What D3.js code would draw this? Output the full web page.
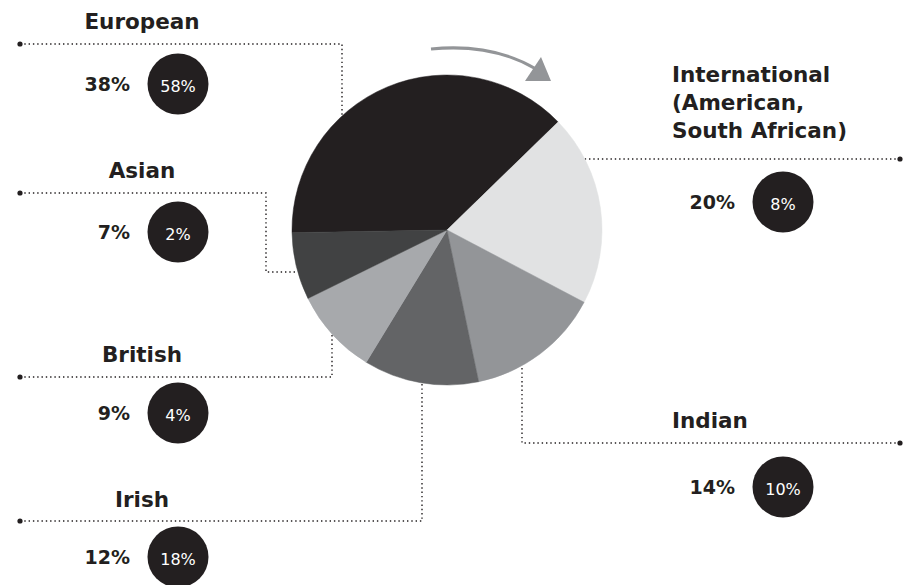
<!DOCTYPE html>
<html>
<head>
<meta charset="utf-8">
<script src="https://cdn.jsdelivr.net/npm/d3@7"></script>
<style>
  body { margin: 0; background: #fff; }
  text { font-family: "DejaVu Sans", sans-serif; fill: #231f20; }
</style>
</head>
<body>
<div id="main"></div>
<script>
// ---- data ----
var categories = ["European", "International", "Indian", "Irish", "British", "Asian"];
var shares     = [38, 20, 14, 12, 9, 7];
var circleVals = [58, 8, 10, 18, 4, 2];
var titles     = [["European"], ["International", "(American,", "South African)"], ["Indian"], ["Irish"], ["British"], ["Asian"]];
var greys      = ["#231f20", "#e1e2e3", "#939598", "#636466", "#a7a9ac", "#414243"];

// ---- layout ----
var width = 906, height = 585,
    center = {x: 447, y: 230},
    radius = 155,
    startDeg = -91,
    bubbleR = 30.5;

// callout geometry per category (same order as categories)
var callouts = [
  {side: "left",  titleY: 29,  pts: [[20, 44], [342, 44]],               end: "top",    cy: 84},
  {side: "right", titleY: 82,  pts: [[900, 159]],                       end: "right",  cy: 202},
  {side: "right", titleY: 428, pts: [[900, 443], [522, 443]],            end: "bottom", cy: 487},
  {side: "left",  titleY: 507, pts: [[20, 521], [422, 521]],             end: "bottom", cy: 557},
  {side: "left",  titleY: 362, pts: [[20, 377], [332, 377]],             end: "bottom", cy: 413},
  {side: "left",  titleY: 178, pts: [[20, 193], [266, 193], [266, 272]], end: "left",   cy: 232}
];
var leftTitleX = 142, leftPctX = 130, leftBubbleX = 178;
var rightTitleX = 672, rightPctX = 735, rightBubbleX = 783;

var svg = d3.select("#main").append("svg")
    .attr("width", width)
    .attr("height", height);

function edgePoint(p, end){
  var dx, dy;
  if(end === "top" || end === "bottom"){
    dx = p[0] - center.x;
    dy = Math.sqrt(radius*radius - dx*dx);
    return [p[0], end === "top" ? center.y - dy : center.y + dy];
  }
  dy = p[1] - center.y;
  dx = Math.sqrt(radius*radius - dy*dy);
  return [end === "left" ? center.x - dx : center.x + dx, p[1]];
}

//===============CALLOUT LINES===================
var rows = categories.map(function(c, i){
  return {name: c, share: shares[i], sub: circleVals[i], title: titles[i], color: greys[i], lay: callouts[i]};
});

var gLines = svg.append("g").attr("class", "callouts");

gLines.selectAll("path")
  .data(rows)
  .enter()
  .append("path")
  .attr("d", function(d){
    var pts = d.lay.pts.slice();
    pts.push(edgePoint(pts[pts.length-1], d.lay.end));
    return d3.line()(pts);
  })
  .attr("fill", "none")
  .attr("stroke", "#231f20")
  .attr("stroke-width", 1.4)
  .attr("stroke-dasharray", "1.4,2.9");

gLines.selectAll("circle")
  .data(rows)
  .enter()
  .append("circle")
  .attr("cx", function(d){ return d.lay.pts[0][0]; })
  .attr("cy", function(d){ return d.lay.pts[0][1]; })
  .attr("r", 2.6)
  .attr("fill", "#231f20");

//===============PIE===================
var pie = d3.pie()
  .sort(null)
  .value(function(d){ return d.share; })
  .startAngle(startDeg * Math.PI/180)
  .endAngle(startDeg * Math.PI/180 + 2*Math.PI);

var arc = d3.arc().innerRadius(0).outerRadius(radius);

svg.append("g")
  .attr("transform", "translate(" + center.x + "," + center.y + ")")
  .selectAll("path")
  .data(pie(rows))
  .enter()
  .append("path")
  .attr("d", arc)
  .attr("fill", function(d){ return d.data.color; })
  .attr("stroke", function(d){ return d.data.color; })
  .attr("stroke-width", 0.5);

// rotation arrow
svg.append("path")
  .attr("d", "M431,49 Q492,43 536,69")
  .attr("fill", "none")
  .attr("stroke", "#939598")
  .attr("stroke-width", 3);
svg.append("path")
  .attr("d", "M541,57 L551,81 L525,81 Z")
  .attr("fill", "#939598");

//===============LABELS===================
var lab = svg.append("g").attr("class", "labels")
  .selectAll("g")
  .data(rows)
  .enter()
  .append("g");

lab.each(function(d){
  var g = d3.select(this),
      left = d.lay.side === "left",
      tx = left ? leftTitleX : rightTitleX,
      px = left ? leftPctX : rightPctX,
      bx = left ? leftBubbleX : rightBubbleX;

  var t = g.append("text")
    .attr("x", tx)
    .attr("y", d.lay.titleY)
    .attr("text-anchor", left ? "middle" : "start")
    .attr("font-size", 21.5)
    .attr("font-weight", "bold");
  t.selectAll("tspan")
    .data(d.title)
    .enter()
    .append("tspan")
    .attr("x", tx)
    .attr("dy", function(s, i){ return i === 0 ? 0 : 28; })
    .text(function(s){ return s; });

  g.append("text")
    .attr("x", px)
    .attr("y", d.lay.cy + 7)
    .attr("text-anchor", "end")
    .attr("font-size", 19)
    .attr("font-weight", "bold")
    .text(d.share + "%");

  g.append("circle")
    .attr("cx", bx)
    .attr("cy", d.lay.cy)
    .attr("r", bubbleR)
    .attr("fill", "#231f20");

  g.append("text")
    .attr("x", bx)
    .attr("y", d.lay.cy + 7.5)
    .attr("text-anchor", "middle")
    .attr("font-size", 16)
    .style("fill", "#fff")
    .text(d.sub + "%");
});
</script>
</body>
</html>
